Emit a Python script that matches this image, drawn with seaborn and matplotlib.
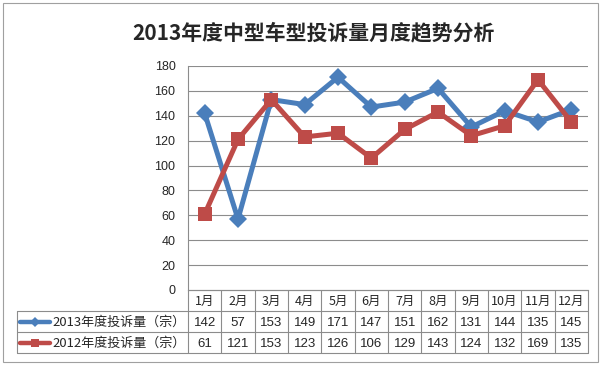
import matplotlib
matplotlib.use("Agg")
import matplotlib.pyplot as plt
import seaborn as sns
import pandas as pd
from matplotlib.lines import Line2D
from matplotlib.patches import Rectangle

months = ["1月", "2月", "3月", "4月", "5月", "6月", "7月", "8月", "9月", "10月", "11月", "12月"]
s2013_name = "2013年度投诉量（宗）"
s2012_name = "2012年度投诉量（宗）"
s2013 = [142, 57, 153, 149, 171, 147, 151, 162, 131, 144, 135, 145]
s2012 = [61, 121, 153, 123, 126, 106, 129, 143, 124, 132, 169, 135]
yticks = [0, 20, 40, 60, 80, 100, 120, 140, 160, 180]
title = "2013年度中型车型投诉量月度趋势分析"

sns.set_theme(style="white")
plt.rcParams["font.family"] = ["Noto Sans CJK SC", "DejaVu Sans"]

W, H = 602, 370
fig = plt.figure(figsize=(W / 100, H / 100), dpi=100)

def fx(px):
    return px / W

def fy(py):
    return 1 - py / H

blue = "#4A7EBB"
red = "#BE4B48"
grid_c = "#8C8C8C"
num_font = ["Liberation Sans", "DejaVu Sans"]

# outer frame
fig.patches.append(Rectangle((fx(3), fy(362)), fx(598) - fx(3), fy(3) - fy(362),
                             transform=fig.transFigure, fill=False, ec="#A0A0A0", lw=0.8))

x0, x1 = 188, 588
ytop, ybot = 66, 290
ax = fig.add_axes([fx(x0), fy(ybot), fx(x1) - fx(x0), fy(ytop) - fy(ybot)])

df13 = pd.DataFrame({"x": range(len(months)), "v": s2013})
df12 = pd.DataFrame({"x": range(len(months)), "v": s2012})
sns.lineplot(data=df13, x="x", y="v", ax=ax, color=blue, lw=3.6, marker="D",
             markersize=9, markeredgewidth=0, zorder=3)
sns.lineplot(data=df12, x="x", y="v", ax=ax, color=red, lw=3.6, marker="s",
             markersize=9.5, markeredgewidth=0, zorder=4)

ax.set_xlim(-0.5, len(months) - 0.5)
ax.set_ylim(0, 180)
ax.set_yticks(yticks)
ax.set_yticklabels([str(t) for t in yticks], fontsize=9, family=num_font)
ax.set_xticks([])
ax.set_xlabel("")
ax.set_ylabel("")
for t in yticks[1:]:
    ax.axhline(t, color=grid_c, lw=0.8, zorder=1)
for s in ["top", "right"]:
    ax.spines[s].set_visible(False)
ax.spines["left"].set_color(grid_c)
ax.spines["bottom"].set_color(grid_c)
ax.spines["left"].set_linewidth(0.8)
ax.spines["bottom"].set_linewidth(0.8)
ax.tick_params(axis="y", length=0, pad=9, left=False)
ax.patch.set_alpha(0)

# title
fig.text(fx(313), fy(33), title, ha="center", va="center", fontsize=15, fontweight="bold")

# table
tb_top, tb_bot = 290, 353
tax = fig.add_axes([fx(x0), fy(tb_bot), fx(x1) - fx(x0), fy(tb_top) - fy(tb_bot)])
tax.set_xlim(-0.5, len(months) - 0.5)
tax.set_ylim(3, 0)
tax.axis("off")
unit = (x1 - x0) / len(months)
left_lbl = -0.5 - (x0 - 17) / unit
lc = grid_c
lw = 0.8
for i in range(len(months) + 1):
    tax.add_line(Line2D([i - 0.5, i - 0.5], [0, 3], color=lc, lw=lw, clip_on=False))
tax.add_line(Line2D([left_lbl, left_lbl], [1, 3], color=lc, lw=lw, clip_on=False))
tax.add_line(Line2D([-0.5, len(months) - 0.5], [0, 0], color=lc, lw=lw, clip_on=False))
for yy in [1, 2, 3]:
    tax.add_line(Line2D([left_lbl, len(months) - 0.5], [yy, yy], color=lc, lw=lw, clip_on=False))

for i, m in enumerate(months):
    tax.text(i, 0.55, m, ha="center", va="center", fontsize=9)
    tax.text(i, 1.55, str(s2013[i]), ha="center", va="center", fontsize=9.5, family=num_font)
    tax.text(i, 2.55, str(s2012[i]), ha="center", va="center", fontsize=9.5, family=num_font)

# legend keys in row labels
kx0 = left_lbl + 0.1
kx1 = kx0 + 0.9
for row, name, col, mk, ms in [(1, s2013_name, blue, "D", 5), (2, s2012_name, red, "s", 6)]:
    tax.add_line(Line2D([kx0, kx1], [row + 0.5, row + 0.5], color=col, lw=3.2, clip_on=False,
                        solid_capstyle="round"))
    tax.add_line(Line2D([(kx0 + kx1) / 2], [row + 0.5], color=col, marker=mk, ms=ms,
                        mew=0, clip_on=False))
    tax.text(kx1 + 0.05, row + 0.55, name, ha="left", va="center", fontsize=9.4, clip_on=False)

fig.savefig("out.png", dpi=100)
